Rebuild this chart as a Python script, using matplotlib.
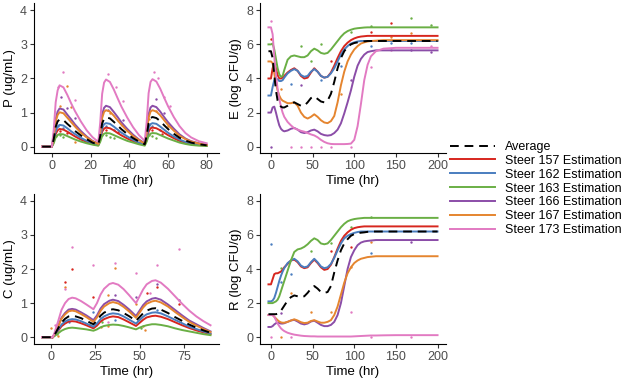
import matplotlib.pyplot as plt

plt.rcParams['font.family'] = ['Liberation Sans', 'DejaVu Sans']

steers = ["157", "162", "163", "166", "167", "173"]
steer_colors = {"157": "#D7261E", "162": "#4A7DBF", "163": "#6AAF45",
                "166": "#8B4DA8", "167": "#E5852F", "173": "#E27AC2"}

# ---- P (ug/mL), top left
p_time = [-5, 0, 1, 2, 3, 4, 6, 8, 10, 12, 15, 18, 21, 24,
          25, 26, 27, 28, 30, 32, 34, 36, 39, 42, 45, 48,
          49, 50, 51, 52, 54, 56, 58, 60, 63, 66, 69, 72, 76, 80]
p_avg = [0, 0, 0.22, 0.58, 0.74, 0.80, 0.78, 0.67, 0.57, 0.46, 0.33, 0.22, 0.12, 0.06,
         0.31, 0.68, 0.82, 0.86, 0.83, 0.73, 0.62, 0.51, 0.37, 0.25, 0.15, 0.07,
         0.32, 0.69, 0.84, 0.87, 0.84, 0.75, 0.63, 0.52, 0.38, 0.26, 0.18, 0.12, 0.07, 0.04]
p_lines = {
    "157": [0, 0, 0.15, 0.37, 0.48, 0.52, 0.50, 0.44, 0.37, 0.30, 0.21, 0.14, 0.08, 0.04,
            0.20, 0.44, 0.53, 0.56, 0.54, 0.48, 0.40, 0.33, 0.24, 0.16, 0.10, 0.05,
            0.20, 0.44, 0.54, 0.56, 0.54, 0.48, 0.41, 0.34, 0.25, 0.17, 0.11, 0.08, 0.05, 0.03],
    "162": [0, 0, 0.18, 0.46, 0.59, 0.64, 0.62, 0.54, 0.45, 0.37, 0.26, 0.17, 0.10, 0.05,
            0.24, 0.54, 0.66, 0.69, 0.67, 0.59, 0.50, 0.41, 0.30, 0.20, 0.12, 0.06,
            0.25, 0.55, 0.66, 0.69, 0.67, 0.59, 0.50, 0.41, 0.30, 0.21, 0.14, 0.09, 0.06, 0.04],
    "163": [0, 0, 0.10, 0.27, 0.34, 0.37, 0.36, 0.31, 0.26, 0.21, 0.15, 0.10, 0.06, 0.03,
            0.14, 0.31, 0.38, 0.40, 0.39, 0.34, 0.29, 0.24, 0.17, 0.12, 0.07, 0.03,
            0.15, 0.32, 0.38, 0.40, 0.39, 0.34, 0.29, 0.24, 0.18, 0.12, 0.08, 0.05, 0.03, 0.02],
    "166": [0, 0, 0.31, 0.81, 1.03, 1.12, 1.09, 0.94, 0.80, 0.65, 0.46, 0.30, 0.17, 0.09,
            0.43, 0.94, 1.14, 1.20, 1.16, 1.02, 0.87, 0.71, 0.52, 0.35, 0.21, 0.10,
            0.44, 0.95, 1.15, 1.20, 1.16, 1.03, 0.87, 0.72, 0.53, 0.36, 0.24, 0.16, 0.10, 0.06],
    "167": [0, 0, 0.28, 0.73, 0.93, 1.01, 0.98, 0.85, 0.72, 0.59, 0.41, 0.27, 0.16, 0.08,
            0.38, 0.84, 1.02, 1.07, 1.03, 0.91, 0.77, 0.64, 0.46, 0.31, 0.19, 0.09,
            0.39, 0.85, 1.03, 1.07, 1.03, 0.92, 0.78, 0.64, 0.47, 0.32, 0.22, 0.15, 0.09, 0.05],
    "173": [0, 0, 0.5, 1.3, 1.65, 1.8, 1.74, 1.52, 1.27, 1.04, 0.74, 0.48, 0.28, 0.14,
            0.7, 1.55, 1.88, 1.97, 1.9, 1.68, 1.42, 1.17, 0.85, 0.57, 0.34, 0.17,
            0.72, 1.57, 1.9, 1.98, 1.91, 1.7, 1.44, 1.19, 0.87, 0.6, 0.4, 0.27, 0.16, 0.1],
}
p_obs_time = {
    "157": [4, 8, 28, 34, 52, 57],
    "162": [3, 6, 28, 32, 52, 56],
    "163": [2, 4, 6, 26, 28, 30, 32, 50, 52, 54],
    "166": [5, 8, 12, 29, 37, 54, 58],
    "167": [4, 8, 10, 12, 26, 30, 36, 50, 54, 60],
    "173": [1, 3, 6, 12, 29, 33, 37, 53, 55, 58, 61],
}
p_obs_val = {
    "157": [0.45, 0.4, 0.48, 0.42, 0.5, 0.38],
    "162": [0.62, 0.55, 0.6, 0.5, 0.62, 0.48],
    "163": [0.3, 0.35, 0.28, 0.33, 0.35, 0.28, 0.25, 0.33, 0.32, 0.25],
    "166": [1.45, 1.12, 0.83, 1.07, 0.78, 1.4, 1.0],
    "167": [1.18, 1.78, 1.15, 0.15, 0.75, 1.0, 0.65, 0.8, 1.05, 0.6],
    "173": [0.58, 1.74, 2.2, 1.37, 2.12, 1.74, 1.35, 2.2, 2.02, 1.46, 1.18],
}

# ---- C (ug/mL), bottom left
c_time = [-5, 0, 1, 2, 4, 6, 8, 10, 12, 14, 17, 20, 24, 26, 28, 30, 33, 35,
          38, 41, 44, 48, 50, 52, 54, 57, 59, 62, 66, 70, 74, 78, 82, 86, 90]
c_avg = [0, 0, 0, 0.06, 0.25, 0.43, 0.54, 0.61, 0.63, 0.61, 0.56, 0.48, 0.38,
         0.48, 0.63, 0.72, 0.80, 0.82, 0.79, 0.71, 0.62, 0.48,
         0.59, 0.70, 0.78, 0.84, 0.85, 0.81, 0.71, 0.59, 0.48, 0.37, 0.28, 0.20, 0.13]
c_lines = {
    "157": [0, 0, 0, 0.05, 0.18, 0.32, 0.40, 0.46, 0.47, 0.46, 0.41, 0.35, 0.26,
            0.34, 0.46, 0.53, 0.59, 0.61, 0.59, 0.52, 0.44, 0.33,
            0.42, 0.51, 0.58, 0.62, 0.63, 0.60, 0.53, 0.44, 0.35, 0.27, 0.20, 0.14, 0.09],
    "162": [0, 0, 0, 0.05, 0.21, 0.37, 0.46, 0.51, 0.53, 0.52, 0.47, 0.40, 0.31,
            0.40, 0.53, 0.61, 0.68, 0.70, 0.68, 0.61, 0.52, 0.40,
            0.50, 0.60, 0.67, 0.72, 0.73, 0.70, 0.61, 0.51, 0.41, 0.31, 0.24, 0.17, 0.11],
    "163": [0, 0, 0, 0.03, 0.11, 0.19, 0.24, 0.27, 0.28, 0.27, 0.25, 0.23, 0.19,
            0.23, 0.29, 0.33, 0.36, 0.37, 0.36, 0.33, 0.29, 0.23,
            0.28, 0.32, 0.35, 0.38, 0.38, 0.36, 0.32, 0.26, 0.21, 0.17, 0.13, 0.09, 0.06],
    "166": [0, 0, 0, 0.08, 0.32, 0.57, 0.71, 0.81, 0.83, 0.81, 0.73, 0.64, 0.50,
            0.64, 0.84, 0.97, 1.07, 1.10, 1.06, 0.95, 0.82, 0.62,
            0.78, 0.94, 1.05, 1.13, 1.15, 1.10, 0.96, 0.80, 0.64, 0.49, 0.38, 0.27, 0.17],
    "167": [0, 0, 0, 0.08, 0.30, 0.54, 0.67, 0.76, 0.78, 0.76, 0.68, 0.59, 0.45,
            0.58, 0.77, 0.90, 1.00, 1.03, 0.99, 0.89, 0.76, 0.57,
            0.72, 0.87, 0.98, 1.05, 1.07, 1.02, 0.90, 0.74, 0.59, 0.45, 0.34, 0.24, 0.15],
    "173": [0, 0, 0, 0.12, 0.45, 0.80, 1.0, 1.12, 1.16, 1.14, 1.06, 0.96, 0.82,
            1.0, 1.25, 1.42, 1.56, 1.59, 1.54, 1.41, 1.24, 1.0,
            1.2, 1.4, 1.55, 1.65, 1.67, 1.6, 1.42, 1.2, 0.98, 0.78, 0.61, 0.47, 0.35],
}
c_obs_time = {
    "157": [0.5, 8, 12, 24, 54, 60, 72],
    "162": [10, 24, 36, 60],
    "163": [3.4, 22, 28.7, 51],
    "166": [36, 48, 60, 72],
    "167": [0, 4.3, 8, 28, 32, 32, 36, 48, 52, 53],
    "173": [2.4, 8, 12, 24, 32, 36, 48, 56, 60, 72],
}
c_obs_val = {
    "157": [0.02, 1.61, 2.0, 1.19, 1.31, 1.46, 0.98],
    "162": [0.45, 0.75, 0.5, 0.8],
    "163": [0.1, 0.36, 0.46, 0.26],
    "166": [1.24, 1.17, 1.56, 1.09],
    "167": [0.26, 0.04, 1.46, 0.31, 0.33, 1.24, 2.02, 0.98, 0.33, 0.21],
    "173": [0.36, 1.4, 2.65, 2.12, 0.46, 2.17, 1.89, 1.31, 2.12, 2.58],
}

# ---- E and R (log CFU/g), right column
er_time = [-3, 0, 2, 4, 6, 8, 10, 12, 14, 16, 20, 24, 28, 32, 36, 40, 44, 48, 52, 56,
           60, 64, 68, 72, 76, 80, 84, 88, 92, 96, 100, 104, 108, 112, 116, 120, 126, 135, 150, 200]
e_avg = [5.6, 5.6, 5.2, 4.2, 3.3, 2.7, 2.45, 2.35, 2.3, 2.3,
         2.4, 2.55, 2.6, 2.5, 2.4, 2.4, 2.6, 2.85, 2.95, 2.8,
         2.65, 2.6, 2.7, 3.1, 3.8, 4.6, 5.2, 5.6, 5.85, 6.0,
         6.08, 6.12, 6.15, 6.18, 6.2, 6.2, 6.2, 6.2, 6.2, 6.2]
e_lines = {
    "157": [4.0, 4.0, 4.6, 4.9, 4.6, 4.2, 4.0, 4.0, 4.05, 4.15,
            4.35, 4.5, 4.6, 4.45, 4.15, 4.0, 4.05, 4.35, 4.6, 4.4,
            4.15, 4.05, 4.1, 4.35, 4.75, 5.2, 5.6, 5.9, 6.1, 6.25,
            6.35, 6.42, 6.46, 6.48, 6.5, 6.5, 6.5, 6.5, 6.5, 6.5],
    "162": [3.0, 3.0, 3.5, 3.9, 4.0, 3.95, 3.85, 3.85, 3.9, 4.05,
            4.3, 4.45, 4.55, 4.45, 4.2, 4.1, 4.15, 4.4, 4.55, 4.4,
            4.15, 4.05, 4.1, 4.3, 4.6, 5.0, 5.4, 5.7, 5.9, 6.05,
            6.12, 6.17, 6.2, 6.2, 6.2, 6.2, 6.2, 6.2, 6.2, 6.2],
    "163": [6.0, 6.0, 6.05, 5.7, 5.15, 4.6, 4.25, 4.1, 4.15, 4.5,
            5.1, 5.3, 5.35, 5.3, 5.25, 5.25, 5.35, 5.6, 5.75, 5.65,
            5.5, 5.45, 5.5, 5.7, 5.95, 6.2, 6.45, 6.65, 6.78, 6.86,
            6.92, 6.95, 6.97, 6.99, 7.0, 7.0, 7.0, 7.0, 7.0, 7.0],
    "166": [2.0, 2.0, 2.3, 2.35, 2.0, 1.6, 1.25, 1.05, 0.95, 0.9,
            0.95, 1.05, 1.1, 1.0, 0.85, 0.8, 0.85, 0.95, 1.0, 0.9,
            0.75, 0.68, 0.65, 0.68, 0.8, 1.0, 1.37, 1.95, 2.6, 3.3,
            4.1, 4.75, 5.15, 5.4, 5.55, 5.6, 5.65, 5.65, 5.65, 5.65],
    "167": [5.0, 5.0, 4.9, 4.3, 3.7, 3.3, 3.0, 2.8, 2.7, 2.65,
            2.55, 2.55, 2.6, 2.4, 2.0, 1.75, 1.65, 1.75, 1.9, 1.75,
            1.55, 1.42, 1.38, 1.5, 1.8, 2.6, 3.6, 4.4, 5.0, 5.4,
            5.7, 5.9, 6.05, 6.12, 6.17, 6.2, 6.22, 6.25, 6.25, 6.25],
    "173": [7.0, 7.0, 6.6, 5.3, 4.2, 3.4, 2.8, 2.35, 2.0, 1.75,
            1.45, 1.25, 1.08, 1.0, 0.93, 0.88, 0.8, 0.72, 0.66, 0.55,
            0.4, 0.28, 0.2, 0.16, 0.15, 0.15, 0.15, 0.15, 0.16, 0.18,
            0.4, 1.2, 2.5, 3.9, 4.8, 5.3, 5.6, 5.75, 5.8, 5.8],
}
e_obs_time = {
    "157": [0, 72, 120, 144],
    "162": [24, 60, 84, 120, 144, 168],
    "163": [36, 48, 60, 96, 120, 168, 192],
    "166": [0, 36, 96, 168, 192],
    "167": [12, 84, 144, 168],
    "173": [0, 24, 36, 48, 60, 72, 96, 120, 144, 192],
}
e_obs_val = {
    "157": [6.3, 5.0, 6.7, 7.25],
    "162": [3.7, 3.9, 4.75, 5.9, 6.1, 6.1],
    "163": [5.9, 5.0, 6.0, 6.7, 7.05, 7.55, 7.15],
    "166": [0, 3.6, 3.9, 5.7, 5.55],
    "167": [3.4, 3.1, 6.45, 6.65],
    "173": [7.35, 0, 0, 0, 0, 0, 0, 4.7, 5.7, 5.9],
}

r_avg = [1.35, 1.35, 1.35, 1.35, 1.35, 1.38, 1.45, 1.55, 1.7, 1.85,
         2.15, 2.35, 2.45, 2.4, 2.35, 2.4, 2.6, 2.85, 3.0, 2.85,
         2.65, 2.6, 2.65, 3.0, 3.8, 4.5, 5.1, 5.5, 5.75, 5.95,
         6.05, 6.1, 6.13, 6.15, 6.18, 6.2, 6.2, 6.2, 6.2, 6.2]
r_lines = {
    "157": [3.1, 3.1, 3.4, 3.7, 3.75, 3.75, 3.8, 3.85, 3.95, 4.1,
            4.3, 4.5, 4.55, 4.4, 4.15, 4.05, 4.1, 4.35, 4.55, 4.35,
            4.1, 3.95, 4.0, 4.25, 4.7, 5.2, 5.65, 5.95, 6.15, 6.3,
            6.4, 6.45, 6.48, 6.5, 6.5, 6.5, 6.5, 6.5, 6.5, 6.5],
    "162": [2.1, 2.1, 2.15, 2.3, 2.6, 2.95, 3.3, 3.6, 3.85, 4.05,
            4.35, 4.5, 4.6, 4.45, 4.2, 4.1, 4.15, 4.4, 4.6, 4.4,
            4.15, 4.05, 4.1, 4.3, 4.65, 5.1, 5.5, 5.8, 5.95, 6.05,
            6.12, 6.17, 6.2, 6.2, 6.2, 6.2, 6.2, 6.2, 6.2, 6.2],
    "163": [2.0, 2.0, 2.0, 2.05, 2.1, 2.2, 2.4, 2.7, 3.0, 3.3,
            3.9, 4.5, 5.0, 5.15, 5.2, 5.3, 5.45, 5.65, 5.8, 5.7,
            5.5, 5.45, 5.5, 5.7, 5.95, 6.2, 6.45, 6.65, 6.8, 6.88,
            6.93, 6.96, 6.98, 7.0, 7.0, 7.0, 7.0, 7.0, 7.0, 7.0],
    "166": [0.6, 0.6, 0.65, 0.75, 0.82, 0.85, 0.83, 0.8, 0.8, 0.82,
            0.9, 0.98, 1.02, 0.92, 0.8, 0.75, 0.8, 0.92, 0.97, 0.85,
            0.72, 0.65, 0.65, 0.72, 0.9, 1.3, 2.0, 3.0, 4.0, 4.7,
            5.1, 5.4, 5.55, 5.62, 5.65, 5.67, 5.7, 5.7, 5.7, 5.7],
    "167": [1.3, 1.3, 1.3, 1.2, 1.1, 1.0, 0.92, 0.87, 0.85, 0.85,
            0.9, 0.98, 1.05, 0.98, 0.88, 0.83, 0.85, 0.95, 1.0, 0.92,
            0.85, 0.85, 0.9, 1.0, 1.3, 1.8, 2.5, 3.2, 3.75, 4.1,
            4.35, 4.5, 4.6, 4.65, 4.7, 4.72, 4.75, 4.75, 4.75, 4.75],
    "173": [1.3, 1.3, 1.3, 1.2, 1.0, 0.8, 0.65, 0.52, 0.43, 0.36,
            0.26, 0.2, 0.15, 0.12, 0.09, 0.07, 0.06, 0.05, 0.05, 0.04,
            0.04, 0.04, 0.04, 0.04, 0.04, 0.04, 0.04, 0.04, 0.04, 0.04,
            0.05, 0.06, 0.07, 0.08, 0.09, 0.1, 0.1, 0.11, 0.12, 0.12],
}
r_obs_time = {
    "157": [72, 96],
    "162": [0, 12, 24, 120],
    "163": [12, 48, 72, 96, 120],
    "166": [12, 168],
    "167": [12, 24, 48, 72, 96, 120],
    "173": [0, 24, 96, 120, 168],
}
r_obs_val = {
    "157": [5.06, 5.3],
    "162": [5.45, 3.26, 3.7, 4.92],
    "163": [4.05, 5.06, 5.5, 6.48, 7.07],
    "166": [1.4, 5.6],
    "167": [0, 2.58, 1.5, 1.5, 4.14, 5.57],
    "173": [0, 0, 1.5, 0, 0],
}


def drawPanel(ax, time, avg, lines, obsTime, obsVal, xlim, ylim, xticks, yticks, ylabel):
    handles = []
    for s in steers:
        ax.scatter(obsTime[s], obsVal[s], s=3, color=steer_colors[s], linewidths=0, zorder=2)
    for s in steers:
        h, = ax.plot(time, lines[s], color=steer_colors[s], lw=1.4, zorder=3,
                     label="Steer %s Estimation" % s)
        handles.append(h)
    h, = ax.plot(time, avg, color="black", lw=1.4, dashes=(4.5, 3), zorder=4, label="Average")
    handles.insert(0, h)

    ax.set_xlim(xlim)
    ax.set_ylim(ylim)
    ax.set_xticks(xticks)
    ax.set_yticks(yticks)
    for side in ["top", "right"]:
        ax.spines[side].set_visible(False)
    for side in ["left", "bottom"]:
        ax.spines[side].set_linewidth(0.8)
    ax.tick_params(length=3, width=0.8, color="#333333", labelcolor="#4D4D4D",
                   labelsize=9, pad=2)
    ax.set_xlabel("Time (hr)", fontsize=9.5, labelpad=2)
    ax.set_ylabel(ylabel, fontsize=9.5, labelpad=3)
    return handles


fig = plt.figure(figsize=(6.25, 3.79), dpi=100)
axP = fig.add_axes([0.0544, 0.595, 0.2952, 0.3958])
axE = fig.add_axes([0.416, 0.595, 0.2976, 0.3958])
axC = fig.add_axes([0.0544, 0.0923, 0.2952, 0.3958])
axR = fig.add_axes([0.416, 0.0923, 0.2976, 0.3958])

handles = drawPanel(axP, p_time, p_avg, p_lines, p_obs_time, p_obs_val,
                    (-9.2, 86.1), (-0.2, 4.2), [0, 20, 40, 60, 80], [0, 1, 2, 3, 4], "P (ug/mL)")
drawPanel(axE, er_time, e_avg, e_lines, e_obs_time, e_obs_val,
          (-13.15, 210.15), (-0.4, 8.4), [0, 50, 100, 150, 200], [0, 2, 4, 6, 8], "E (log CFU/g)")
drawPanel(axC, c_time, c_avg, c_lines, c_obs_time, c_obs_val,
          (-9.5, 94.5), (-0.2, 4.2), [0, 25, 50, 75], [0, 1, 2, 3, 4], "C (ug/mL)")
drawPanel(axR, er_time, r_avg, r_lines, r_obs_time, r_obs_val,
          (-13.15, 210.15), (-0.4, 8.4), [0, 50, 100, 150, 200], [0, 2, 4, 6, 8], "R (log CFU/g)")

fig.legend(handles=handles, loc="upper left", bbox_to_anchor=(0.72, 0.628),
           frameon=False, fontsize=9, handlelength=3.6, handletextpad=0.8,
           labelspacing=0.15, borderpad=0, borderaxespad=0)

fig.savefig("out.png", dpi=100)
